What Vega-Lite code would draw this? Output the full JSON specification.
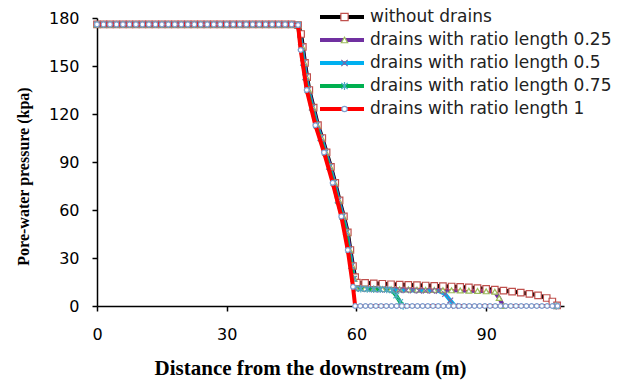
{
  "$schema": "https://vega.github.io/schema/vega-lite/v6.json",
  "width": 467,
  "height": 288,
  "autosize": {"type": "none"},
  "padding": {"left": 97, "top": 18, "right": 53, "bottom": 75},
  "background": "white",
  "config": {
    "view": {"stroke": null},
    "axis": {"grid": false, "domainColor": "#000", "tickColor": "#000", "labelFont": "DejaVu Sans", "labelFontSize": 16, "labelColor": "#000", "domainWidth": 1.5, "tickWidth": 1.5, "tickSize": 5, "labelFlush": false}
  },
  "data": {"values": [
    {"s":"a","x":0,"y":176},{"s":"a","x":1.5,"y":176},{"s":"a","x":3,"y":176},{"s":"a","x":4.5,"y":176},{"s":"a","x":6,"y":176},{"s":"a","x":7.5,"y":176},{"s":"a","x":9,"y":176},{"s":"a","x":10.5,"y":176},{"s":"a","x":12,"y":176},{"s":"a","x":13.5,"y":176},{"s":"a","x":15,"y":176},{"s":"a","x":16.5,"y":176},{"s":"a","x":18,"y":176},{"s":"a","x":19.5,"y":176},{"s":"a","x":21,"y":176},{"s":"a","x":22.5,"y":176},{"s":"a","x":24,"y":176},{"s":"a","x":25.5,"y":176},{"s":"a","x":27,"y":176},{"s":"a","x":28.5,"y":176},{"s":"a","x":30,"y":176},{"s":"a","x":31.5,"y":176},{"s":"a","x":33,"y":176},{"s":"a","x":34.5,"y":176},{"s":"a","x":36,"y":176},{"s":"a","x":37.5,"y":176},{"s":"a","x":39,"y":176},{"s":"a","x":40.5,"y":176},{"s":"a","x":42,"y":176},{"s":"a","x":43.5,"y":176},{"s":"a","x":45,"y":176},{"s":"a","x":46.5,"y":175.6},
    {"s":"a","x":47.2,"y":170},{"s":"a","x":47.6,"y":162},{"s":"a","x":48.1,"y":152},{"s":"a","x":48.6,"y":143},{"s":"a","x":49.1,"y":135},{"s":"a","x":50.1,"y":124},{"s":"a","x":51.1,"y":113},{"s":"a","x":52.1,"y":105},{"s":"a","x":53.1,"y":96},{"s":"a","x":54.1,"y":87},{"s":"a","x":55.1,"y":77},{"s":"a","x":56.1,"y":66},{"s":"a","x":57.1,"y":56},{"s":"a","x":58,"y":46},{"s":"a","x":58.6,"y":35},{"s":"a","x":59.2,"y":25},{"s":"a","x":59.7,"y":18},{"s":"a","x":60.1,"y":14.6},
    {"s":"a","x":62,"y":14.4},{"s":"a","x":64,"y":14.2},{"s":"a","x":66,"y":13.9},{"s":"a","x":68,"y":13.6},{"s":"a","x":70,"y":13.4},{"s":"a","x":72,"y":13.2},{"s":"a","x":74,"y":13},{"s":"a","x":76,"y":12.8},{"s":"a","x":78,"y":12.6},{"s":"a","x":80,"y":12.4},{"s":"a","x":82,"y":12.2},{"s":"a","x":84,"y":11.9},{"s":"a","x":86,"y":11.6},{"s":"a","x":88,"y":11.2},{"s":"a","x":90,"y":10.7},{"s":"a","x":92,"y":10.2},{"s":"a","x":94,"y":9.6},{"s":"a","x":96,"y":9},{"s":"a","x":98,"y":8.3},{"s":"a","x":100,"y":7.6},{"s":"a","x":102,"y":6.7},{"s":"a","x":104,"y":5},{"s":"a","x":105.3,"y":2.8},{"s":"a","x":106.4,"y":0.4},

    {"s":"b","x":0,"y":176},{"s":"b","x":1.5,"y":176},{"s":"b","x":3,"y":176},{"s":"b","x":4.5,"y":176},{"s":"b","x":6,"y":176},{"s":"b","x":7.5,"y":176},{"s":"b","x":9,"y":176},{"s":"b","x":10.5,"y":176},{"s":"b","x":12,"y":176},{"s":"b","x":13.5,"y":176},{"s":"b","x":15,"y":176},{"s":"b","x":16.5,"y":176},{"s":"b","x":18,"y":176},{"s":"b","x":19.5,"y":176},{"s":"b","x":21,"y":176},{"s":"b","x":22.5,"y":176},{"s":"b","x":24,"y":176},{"s":"b","x":25.5,"y":176},{"s":"b","x":27,"y":176},{"s":"b","x":28.5,"y":176},{"s":"b","x":30,"y":176},{"s":"b","x":31.5,"y":176},{"s":"b","x":33,"y":176},{"s":"b","x":34.5,"y":176},{"s":"b","x":36,"y":176},{"s":"b","x":37.5,"y":176},{"s":"b","x":39,"y":176},{"s":"b","x":40.5,"y":176},{"s":"b","x":42,"y":176},{"s":"b","x":43.5,"y":176},{"s":"b","x":45,"y":176},{"s":"b","x":46.5,"y":175.6},
    {"s":"b","x":47.45,"y":162},{"s":"b","x":47.95,"y":152},{"s":"b","x":48.45,"y":143},{"s":"b","x":48.95,"y":135},{"s":"b","x":49.95,"y":124},{"s":"b","x":50.95,"y":113},{"s":"b","x":51.95,"y":105},{"s":"b","x":52.95,"y":96},{"s":"b","x":53.95,"y":87},{"s":"b","x":54.95,"y":77},{"s":"b","x":55.95,"y":66},{"s":"b","x":56.95,"y":56},{"s":"b","x":57.85,"y":46},{"s":"b","x":58.45,"y":35},{"s":"b","x":59.05,"y":25},{"s":"b","x":59.5,"y":17},{"s":"b","x":59.9,"y":11.2},
    {"s":"b","x":62,"y":10.9},{"s":"b","x":64,"y":10.7},{"s":"b","x":66,"y":10.6},{"s":"b","x":68,"y":10.5},{"s":"b","x":70,"y":10.4},{"s":"b","x":72,"y":10.3},{"s":"b","x":74,"y":10.2},{"s":"b","x":76,"y":10.1},{"s":"b","x":78,"y":10},{"s":"b","x":80,"y":9.9},{"s":"b","x":82,"y":9.8},{"s":"b","x":84,"y":9.7},{"s":"b","x":86,"y":9.6},{"s":"b","x":88,"y":9.4},{"s":"b","x":90,"y":9.2},{"s":"b","x":92,"y":8.9},{"s":"b","x":93,"y":5},{"s":"b","x":94,"y":0},{"s":"b","x":106.2,"y":0},

    {"s":"c","x":0,"y":176},{"s":"c","x":1.5,"y":176},{"s":"c","x":3,"y":176},{"s":"c","x":4.5,"y":176},{"s":"c","x":6,"y":176},{"s":"c","x":7.5,"y":176},{"s":"c","x":9,"y":176},{"s":"c","x":10.5,"y":176},{"s":"c","x":12,"y":176},{"s":"c","x":13.5,"y":176},{"s":"c","x":15,"y":176},{"s":"c","x":16.5,"y":176},{"s":"c","x":18,"y":176},{"s":"c","x":19.5,"y":176},{"s":"c","x":21,"y":176},{"s":"c","x":22.5,"y":176},{"s":"c","x":24,"y":176},{"s":"c","x":25.5,"y":176},{"s":"c","x":27,"y":176},{"s":"c","x":28.5,"y":176},{"s":"c","x":30,"y":176},{"s":"c","x":31.5,"y":176},{"s":"c","x":33,"y":176},{"s":"c","x":34.5,"y":176},{"s":"c","x":36,"y":176},{"s":"c","x":37.5,"y":176},{"s":"c","x":39,"y":176},{"s":"c","x":40.5,"y":176},{"s":"c","x":42,"y":176},{"s":"c","x":43.5,"y":176},{"s":"c","x":45,"y":176},{"s":"c","x":46.5,"y":175.6},
    {"s":"c","x":47.3,"y":162},{"s":"c","x":47.8,"y":152},{"s":"c","x":48.3,"y":143},{"s":"c","x":48.8,"y":135},{"s":"c","x":49.8,"y":124},{"s":"c","x":50.8,"y":113},{"s":"c","x":51.8,"y":105},{"s":"c","x":52.8,"y":96},{"s":"c","x":53.8,"y":87},{"s":"c","x":54.8,"y":77},{"s":"c","x":55.8,"y":66},{"s":"c","x":56.8,"y":56},{"s":"c","x":57.7,"y":46},{"s":"c","x":58.3,"y":35},{"s":"c","x":58.9,"y":25},{"s":"c","x":59.4,"y":17},{"s":"c","x":59.8,"y":11},
    {"s":"c","x":61,"y":10.7},{"s":"c","x":62.5,"y":10.5},{"s":"c","x":64,"y":10.3},{"s":"c","x":65.5,"y":10.2},{"s":"c","x":67,"y":10.1},{"s":"c","x":68.5,"y":10},{"s":"c","x":70,"y":9.9},{"s":"c","x":71.5,"y":9.8},{"s":"c","x":73,"y":9.7},{"s":"c","x":74.5,"y":9.6},{"s":"c","x":76,"y":9.6},{"s":"c","x":77.5,"y":9.5},{"s":"c","x":79,"y":9.4},{"s":"c","x":80.5,"y":7.5},{"s":"c","x":81.7,"y":3.5},{"s":"c","x":82.8,"y":0},{"s":"c","x":106.2,"y":0},

    {"s":"d","x":0,"y":176},{"s":"d","x":1.5,"y":176},{"s":"d","x":3,"y":176},{"s":"d","x":4.5,"y":176},{"s":"d","x":6,"y":176},{"s":"d","x":7.5,"y":176},{"s":"d","x":9,"y":176},{"s":"d","x":10.5,"y":176},{"s":"d","x":12,"y":176},{"s":"d","x":13.5,"y":176},{"s":"d","x":15,"y":176},{"s":"d","x":16.5,"y":176},{"s":"d","x":18,"y":176},{"s":"d","x":19.5,"y":176},{"s":"d","x":21,"y":176},{"s":"d","x":22.5,"y":176},{"s":"d","x":24,"y":176},{"s":"d","x":25.5,"y":176},{"s":"d","x":27,"y":176},{"s":"d","x":28.5,"y":176},{"s":"d","x":30,"y":176},{"s":"d","x":31.5,"y":176},{"s":"d","x":33,"y":176},{"s":"d","x":34.5,"y":176},{"s":"d","x":36,"y":176},{"s":"d","x":37.5,"y":176},{"s":"d","x":39,"y":176},{"s":"d","x":40.5,"y":176},{"s":"d","x":42,"y":176},{"s":"d","x":43.5,"y":176},{"s":"d","x":45,"y":176},{"s":"d","x":46.5,"y":175.6},
    {"s":"d","x":47.15,"y":162},{"s":"d","x":47.65,"y":152},{"s":"d","x":48.15,"y":143},{"s":"d","x":48.65,"y":135},{"s":"d","x":49.65,"y":124},{"s":"d","x":50.65,"y":113},{"s":"d","x":51.65,"y":105},{"s":"d","x":52.65,"y":96},{"s":"d","x":53.65,"y":87},{"s":"d","x":54.65,"y":77},{"s":"d","x":55.65,"y":66},{"s":"d","x":56.65,"y":56},{"s":"d","x":57.55,"y":46},{"s":"d","x":58.15,"y":35},{"s":"d","x":58.75,"y":25},{"s":"d","x":59.3,"y":17},{"s":"d","x":59.7,"y":11},
    {"s":"d","x":61,"y":10.8},{"s":"d","x":62.5,"y":10.6},{"s":"d","x":64,"y":10.5},{"s":"d","x":65.5,"y":10.4},{"s":"d","x":67,"y":10.3},{"s":"d","x":68.2,"y":9.8},{"s":"d","x":69.2,"y":6.5},{"s":"d","x":70.1,"y":2.5},{"s":"d","x":70.8,"y":0},{"s":"d","x":106.2,"y":0},

    {"s":"e","x":0,"y":176},{"s":"e","x":1.5,"y":176},{"s":"e","x":3,"y":176},{"s":"e","x":4.5,"y":176},{"s":"e","x":6,"y":176},{"s":"e","x":7.5,"y":176},{"s":"e","x":9,"y":176},{"s":"e","x":10.5,"y":176},{"s":"e","x":12,"y":176},{"s":"e","x":13.5,"y":176},{"s":"e","x":15,"y":176},{"s":"e","x":16.5,"y":176},{"s":"e","x":18,"y":176},{"s":"e","x":19.5,"y":176},{"s":"e","x":21,"y":176},{"s":"e","x":22.5,"y":176},{"s":"e","x":24,"y":176},{"s":"e","x":25.5,"y":176},{"s":"e","x":27,"y":176},{"s":"e","x":28.5,"y":176},{"s":"e","x":30,"y":176},{"s":"e","x":31.5,"y":176},{"s":"e","x":33,"y":176},{"s":"e","x":34.5,"y":176},{"s":"e","x":36,"y":176},{"s":"e","x":37.5,"y":176},{"s":"e","x":39,"y":176},{"s":"e","x":40.5,"y":176},{"s":"e","x":42,"y":176},{"s":"e","x":43.5,"y":176},{"s":"e","x":45,"y":176},{"s":"e","x":46.5,"y":175.6},
    {"s":"e","x":47.1,"y":160},{"s":"e","x":48.5,"y":135},{"s":"e","x":50.5,"y":113},{"s":"e","x":52.5,"y":96},{"s":"e","x":54.5,"y":77},{"s":"e","x":56.5,"y":56},{"s":"e","x":58,"y":35},{"s":"e","x":59.2,"y":12},{"s":"e","x":59.7,"y":0},
    {"s":"e","x":60.9,"y":0},{"s":"e","x":62.1,"y":0},{"s":"e","x":63.3,"y":0},{"s":"e","x":64.5,"y":0},{"s":"e","x":65.7,"y":0},{"s":"e","x":66.9,"y":0},{"s":"e","x":68.1,"y":0},{"s":"e","x":69.3,"y":0},{"s":"e","x":70.5,"y":0},{"s":"e","x":71.7,"y":0},{"s":"e","x":72.9,"y":0},{"s":"e","x":74.1,"y":0},{"s":"e","x":75.3,"y":0},{"s":"e","x":76.5,"y":0},{"s":"e","x":77.7,"y":0},{"s":"e","x":78.9,"y":0},{"s":"e","x":80.1,"y":0},{"s":"e","x":81.3,"y":0},{"s":"e","x":82.5,"y":0},{"s":"e","x":83.7,"y":0},{"s":"e","x":84.9,"y":0},{"s":"e","x":86.1,"y":0},{"s":"e","x":87.3,"y":0},{"s":"e","x":88.5,"y":0},{"s":"e","x":89.7,"y":0},{"s":"e","x":90.9,"y":0},{"s":"e","x":92.1,"y":0},{"s":"e","x":93.3,"y":0},{"s":"e","x":94.5,"y":0},{"s":"e","x":95.7,"y":0},{"s":"e","x":96.9,"y":0},{"s":"e","x":98.1,"y":0},{"s":"e","x":99.3,"y":0},{"s":"e","x":100.5,"y":0},{"s":"e","x":101.7,"y":0},{"s":"e","x":102.9,"y":0},{"s":"e","x":104.1,"y":0},{"s":"e","x":105.3,"y":0},{"s":"e","x":106.5,"y":0}
  ]},
  "transform": [
    {"lookup": "s", "from": {"data": {"values": [
      {"s": "a", "series": "without drains"},
      {"s": "b", "series": "drains with ratio length 0.25"},
      {"s": "c", "series": "drains with ratio length 0.5"},
      {"s": "d", "series": "drains with ratio length 0.75"},
      {"s": "e", "series": "drains with ratio length 1"}
    ]}, "key": "s", "fields": ["series"]}}
  ],
  "encoding": {
    "x": {"field": "x", "type": "quantitative",
      "scale": {"domain": [0, 108], "nice": false, "zero": false},
      "axis": {"values": [0, 30, 60, 90], "title": "Distance from the downstream (m)", "titleFont": "Liberation Serif", "titleFontSize": 21, "titleFontWeight": "bold", "titleColor": "#000", "titleX": 213, "titleY": 68, "titleAlign": "center", "titleBaseline": "alphabetic", "labelPadding": 15}},
    "y": {"field": "y", "type": "quantitative",
      "scale": {"domain": [0, 180], "nice": false},
      "axis": {"values": [0, 30, 60, 90, 120, 150, 180], "title": "Pore-water pressure (kpa)", "titleFont": "Liberation Serif", "titleFontSize": 16, "titleFontWeight": "bold", "titleColor": "#000", "titleX": -74, "titleY": 158, "titleAngle": -90, "titleAlign": "center", "titleBaseline": "middle", "labelPadding": 13}}
  },
  "layer": [
    {"transform": [{"filter": "datum.s != 'e'"}],
     "mark": {"type": "line", "strokeWidth": 4, "strokeJoin": "round"},
     "encoding": {"color": {"field": "series", "type": "nominal",
        "scale": {"domain": ["without drains", "drains with ratio length 0.25", "drains with ratio length 0.5", "drains with ratio length 0.75", "drains with ratio length 1"],
                  "range": ["#000000", "#7030A0", "#00B0F0", "#00B050", "#FF0000"]},
        "legend": {"orient": "none", "legendX": 221, "legendY": -12.5, "title": null, "symbolType": "stroke", "symbolSize": 1936, "symbolStrokeWidth": 4, "labelFont": "DejaVu Sans", "labelFontSize": 17, "labelColor": "#222", "labelLimit": 400, "clipHeight": 23, "rowPadding": 0, "labelOffset": 4, "padding": 0}}}},
    {"transform": [{"filter": "datum.s != 'e'"}],
     "mark": {"type": "point", "filled": true, "fill": "white", "opacity": 1, "size": 32, "strokeWidth": 1.2},
     "encoding": {
       "stroke": {"field": "s", "type": "nominal",
         "scale": {"domain": ["a", "b", "c", "d", "e"], "range": ["#C0504D", "#9BBB59", "#8064A2", "#4BACC6", "#7E9FD0"]},
         "legend": {"orient": "none", "legendX": 221, "legendY": -12.5, "title": null, "symbolSize": 40, "symbolStrokeWidth": 1.2, "symbolFillColor": "white", "labelColor": "transparent", "labelFontSize": 17, "clipHeight": 23, "rowPadding": 0, "symbolOffset": 18, "padding": 0}},
       "shape": {"field": "s", "type": "nominal",
         "scale": {"domain": ["a", "b", "c", "d", "e"], "range": ["M-1.15,-1.15H1.15V1.15H-1.15Z", "triangle-up", "M-1,-1L1,1M-1,1L1,-1", "M-1,-1L1,1M-1,1L1,-1M0,-1.3V1.3", "M0.85,0A0.85,0.85,0,1,1,-0.85,0A0.85,0.85,0,1,1,0.85,0Z"]},
         "legend": {"orient": "none", "legendX": 221, "legendY": -12.5, "title": null, "symbolSize": 40, "symbolStrokeWidth": 1.2, "symbolFillColor": "white", "labelColor": "transparent", "labelFontSize": 17, "clipHeight": 23, "rowPadding": 0, "symbolOffset": 18, "padding": 0}}
     }},
    {"transform": [{"filter": "datum.s == 'e'"}],
     "mark": {"type": "line", "strokeWidth": 4, "strokeJoin": "round"},
     "encoding": {"color": {"field": "series", "type": "nominal",
        "scale": {"domain": ["without drains", "drains with ratio length 0.25", "drains with ratio length 0.5", "drains with ratio length 0.75", "drains with ratio length 1"],
                  "range": ["#000000", "#7030A0", "#00B0F0", "#00B050", "#FF0000"]},
        "legend": {"orient": "none", "legendX": 221, "legendY": -12.5, "title": null, "symbolType": "stroke", "symbolSize": 1936, "symbolStrokeWidth": 4, "labelFont": "DejaVu Sans", "labelFontSize": 17, "labelColor": "#222", "labelLimit": 400, "clipHeight": 23, "rowPadding": 0, "labelOffset": 4, "padding": 0}}}},
    {"transform": [{"filter": "datum.s == 'e'"}],
     "mark": {"type": "point", "filled": true, "fill": "white", "opacity": 1, "size": 32, "strokeWidth": 1.2},
     "encoding": {
       "stroke": {"field": "s", "type": "nominal",
         "scale": {"domain": ["a", "b", "c", "d", "e"], "range": ["#C0504D", "#9BBB59", "#8064A2", "#4BACC6", "#7E9FD0"]},
         "legend": {"orient": "none", "legendX": 221, "legendY": -12.5, "title": null, "symbolSize": 40, "symbolStrokeWidth": 1.2, "symbolFillColor": "white", "labelColor": "transparent", "labelFontSize": 17, "clipHeight": 23, "rowPadding": 0, "symbolOffset": 18, "padding": 0}},
       "shape": {"field": "s", "type": "nominal",
         "scale": {"domain": ["a", "b", "c", "d", "e"], "range": ["M-1.15,-1.15H1.15V1.15H-1.15Z", "triangle-up", "M-1,-1L1,1M-1,1L1,-1", "M-1,-1L1,1M-1,1L1,-1M0,-1.3V1.3", "M0.85,0A0.85,0.85,0,1,1,-0.85,0A0.85,0.85,0,1,1,0.85,0Z"]},
         "legend": {"orient": "none", "legendX": 221, "legendY": -12.5, "title": null, "symbolSize": 40, "symbolStrokeWidth": 1.2, "symbolFillColor": "white", "labelColor": "transparent", "labelFontSize": 17, "clipHeight": 23, "rowPadding": 0, "symbolOffset": 18, "padding": 0}}
     }}
  ]
}
